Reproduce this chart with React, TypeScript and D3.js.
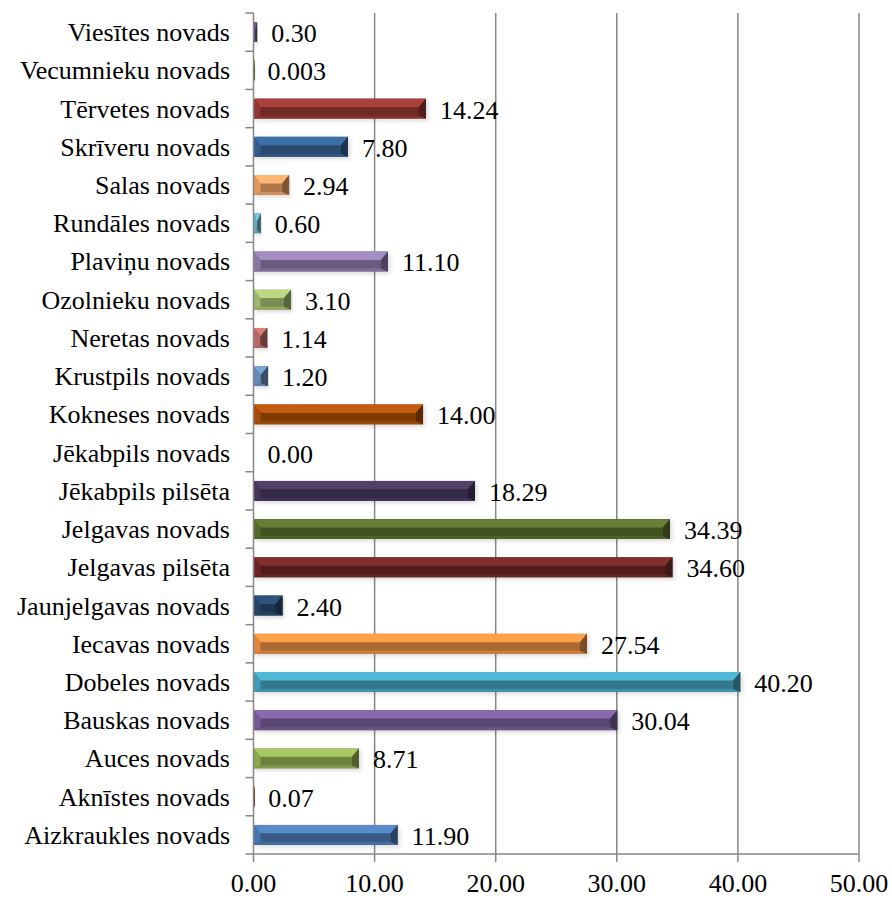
import React from "react";
import * as d3 from "d3";

const categories = [
  "Aizkraukles novads", "Aknīstes novads", "Auces novads", "Bauskas novads",
  "Dobeles novads", "Iecavas novads", "Jaunjelgavas novads", "Jelgavas pilsēta",
  "Jelgavas novads", "Jēkabpils pilsēta", "Jēkabpils novads", "Kokneses novads",
  "Krustpils novads", "Neretas novads", "Ozolnieku novads", "Plaviņu novads",
  "Rundāles novads", "Salas novads", "Skrīveru novads", "Tērvetes novads",
  "Vecumnieku novads", "Viesītes novads",
];
const values = [
  11.9, 0.07, 8.71, 30.04, 40.2, 27.54, 2.4, 34.6, 34.39, 18.29, 0.0, 14.0,
  1.2, 1.14, 3.1, 11.1, 0.6, 2.94, 7.8, 14.24, 0.003, 0.3,
];
const valueLabels = [
  "11.90", "0.07", "8.71", "30.04", "40.20", "27.54", "2.40", "34.60", "34.39",
  "18.29", "0.00", "14.00", "1.20", "1.14", "3.10", "11.10", "0.60", "2.94",
  "7.80", "14.24", "0.003", "0.30",
];
const colors = [
  "#4F81BD", "#C0504D", "#9BBB59", "#8064A2", "#4BACC6", "#F79646",
  "#2C4D75", "#772C2A", "#5F7530", "#4D3B62", "#276A7C", "#B65708",
  "#729ACA", "#CD7371", "#AFC97A", "#9983B5", "#6FBDD1", "#F9AB6B",
  "#3A679C", "#9F3B38", "#7E9D40", "#664F83",
];
const xTicks = [0, 10, 20, 30, 40, 50];

const W = 892, H = 899;
const left = 253.5, right = 859, top = 13, bottom = 854;
const FONT = "Liberation Serif, Times New Roman, DejaVu Serif, serif";

export default function App() {
  const x = d3.scaleLinear().domain([0, 50]).range([left, right]);
  const y = d3.scaleBand<string>().domain([...categories].reverse()).range([top, bottom]).paddingInner(0.48).paddingOuter(0.24);
  const band = (bottom - top) / categories.length;
  const bh = y.bandwidth();

  return (
    <svg width={W} height={H} style={{ position: "absolute", left: 0, top: 0, background: "#fff" }}>
      <defs>
        <filter id="sh" x="-5%" y="-30%" width="110%" height="160%">
          <feDropShadow dx="2" dy="2" stdDeviation="2" floodColor="#000" floodOpacity="0.15" />
        </filter>
      </defs>
      {xTicks.slice(1).map((t) => (
        <line key={"g" + t} x1={x(t)} x2={x(t)} y1={top} y2={bottom} stroke="#868686" strokeWidth={1.5} />
      ))}
      {categories.map((c, i) => {
        const v = values[i];
        const x0 = x(0);
        if (v <= 0) return null;
        const w = Math.max(1.5, x(v) - x0);
        const yy = y(c)!;
        const col = d3.color(colors[i])!;
        const b = Math.min(7, w / 2);
        const t1 = yy + bh * 0.42;
        const t2 = yy + bh * 0.85;
        const x1 = x0 + w;
        const light = col.brighter(0.2).formatHex();
        const mid = col.darker(1.0).formatHex();
        const bot = col.darker(0.5).formatHex();
        const lft = col.darker(0.3).formatHex();
        const rgt = col.darker(1.9).formatHex();
        return (
          <g key={c} filter="url(#sh)">
            <rect x={x0} y={yy} width={w} height={bh} fill={mid} />
            <polygon points={`${x0},${yy} ${x1},${yy} ${x1 - b},${t1} ${x0 + b},${t1}`} fill={light} />
            <polygon points={`${x0},${yy + bh} ${x1},${yy + bh} ${x1 - b},${t2} ${x0 + b},${t2}`} fill={bot} />
            <polygon points={`${x0},${yy} ${x0 + b},${t1} ${x0 + b},${t2} ${x0},${yy + bh}`} fill={lft} />
            <polygon points={`${x1},${yy} ${x1 - b},${t1} ${x1 - b},${t2} ${x1},${yy + bh}`} fill={rgt} />
          </g>
        );
      })}
      <line x1={left} x2={left} y1={top} y2={bottom} stroke="#868686" strokeWidth={1.5} />
      <line x1={left} x2={right} y1={bottom} y2={bottom} stroke="#868686" strokeWidth={1.5} />
      {d3.range(categories.length + 1).map((k) => (
        <line key={"ct" + k} x1={left - 8} x2={left} y1={top + k * band} y2={top + k * band} stroke="#868686" strokeWidth={1.5} />
      ))}
      {xTicks.map((t) => (
        <line key={"xt" + t} x1={x(t)} x2={x(t)} y1={bottom} y2={bottom + 8} stroke="#868686" strokeWidth={1.5} />
      ))}
      {xTicks.map((t) => (
        <text key={"xl" + t} x={x(t)} y={892} textAnchor="middle" fontFamily={FONT} fontSize={26} fill="#000">
          {t.toFixed(2)}
        </text>
      ))}
      {categories.map((c) => (
        <text key={"cl" + c} x={230} y={y(c)! + bh / 2 + 9} textAnchor="end" fontFamily={FONT} fontSize={26} fill="#000">
          {c}
        </text>
      ))}
      {categories.map((c, i) => (
        <text key={"vl" + c} x={x(values[i]) + 14} y={y(c)! + bh / 2 + 10} fontFamily={FONT} fontSize={26} fill="#000">
          {valueLabels[i]}
        </text>
      ))}
    </svg>
  );
}
